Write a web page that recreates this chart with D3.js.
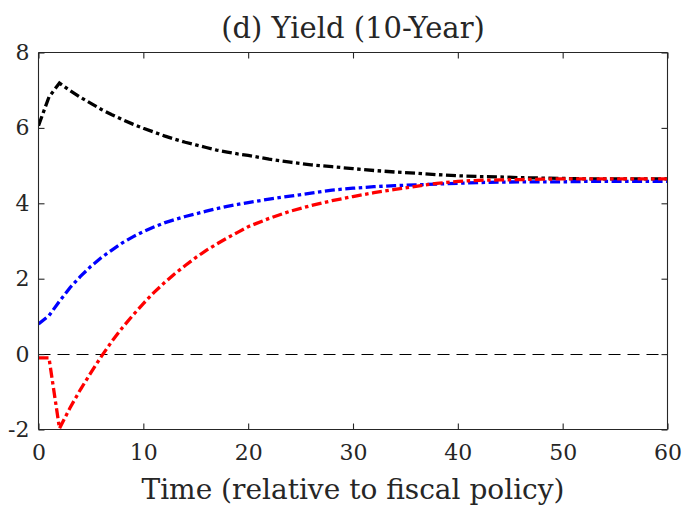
<!DOCTYPE html>
<html>
<head>
<meta charset="utf-8">
<script src="https://cdn.jsdelivr.net/npm/d3@7"></script>
<style>
  html, body { margin: 0; padding: 0; background: #fff; }
  svg text { font-family: "DejaVu Serif", serif; fill: #262626; }
</style>
</head>
<body>
<svg id="chart" width="682" height="508"></svg>
<script>
// Periods after the fiscal policy change
const time = [0,1,2,3,4,5,6,7,8,9,10,11,12,13,14,15,16,17,18,19,20,
  22,24,26,28,30,32,34,36,38,40,42,44,46,48,50,52,54,56,58,60];

// 10-year yield responses (percent)
const yieldBlack = [6.06,6.82,7.19,6.99,6.81,6.65,6.49,6.35,6.22,6.10,5.99,5.89,5.79,5.70,5.62,5.55,5.48,5.41,5.36,5.31,5.27,
  5.17,5.09,5.02,4.97,4.92,4.87,4.83,4.80,4.76,4.73,4.71,4.70,4.68,4.67,4.66,4.65,4.65,4.65,4.65,4.65];
const yieldBlue = [0.80,1.02,1.40,1.76,2.06,2.33,2.56,2.76,2.95,3.11,3.25,3.37,3.48,3.57,3.65,3.72,3.79,3.86,3.92,3.97,4.02,
  4.11,4.19,4.27,4.35,4.40,4.44,4.47,4.49,4.51,4.53,4.55,4.56,4.57,4.57,4.57,4.58,4.58,4.58,4.58,4.58];
const yieldRed = [-0.10,-0.10,-1.97,-1.43,-0.94,-0.49,-0.06,0.34,0.70,1.03,1.34,1.63,1.89,2.13,2.35,2.56,2.75,2.92,3.08,3.23,3.38,
  3.60,3.79,3.94,4.07,4.18,4.28,4.37,4.45,4.53,4.58,4.61,4.62,4.63,4.64,4.65,4.65,4.65,4.65,4.65,4.65];

const xTicks = [0,10,20,30,40,50,60];
const yTicks = [-2,0,2,4,6,8];

const titleText = "(d) Yield (10-Year)";
const xLabelText = "Time (relative to fiscal policy)";

const svg = d3.select("#chart");
const W = 682, H = 508;
const margin = { left: 38.5, right: W - 667.5, top: 52.5, bottom: H - 429.5 };

const x = d3.scaleLinear().domain([0, 60]).range([margin.left, W - margin.right]);
const y = d3.scaleLinear().domain([-2, 8]).range([H - margin.bottom, margin.top]);

const axisColor = "#262626";
const tickLen = 6;
const serif = "'DejaVu Serif', serif";

// Clip plot lines to the axes box
svg.append("defs").append("clipPath").attr("id", "plotClip")
  .append("rect")
  .attr("x", x(0)).attr("y", y(8) - 2)
  .attr("width", x(60) - x(0)).attr("height", y(-2) - y(8) + 2);

// Zero reference line
const y0 = Math.round(y(0)) + 0.5;
svg.append("line")
  .attr("x1", x(0)).attr("x2", x(60))
  .attr("y1", y0).attr("y2", y0)
  .attr("stroke", "#000").attr("stroke-width", 1.2)
  .attr("stroke-dasharray", "12,7");

// Response lines
const line = d3.line().x((d, i) => x(time[i])).y(d => y(d));
const series = [
  { values: yieldBlack, color: "#000000" },
  { values: yieldBlue, color: "#0000ff" },
  { values: yieldRed, color: "#ff0000" }
];
svg.append("g").attr("clip-path", "url(#plotClip)")
  .selectAll("path").data(series).join("path")
  .attr("d", d => line(d.values))
  .attr("fill", "none")
  .attr("stroke", d => d.color)
  .attr("stroke-width", 3.3)
  .attr("stroke-dasharray", "10,3.5,3.5,3.5");

// Axes: ticks point inward on all four sides
const fmt = d => (d < 0 ? "-" + Math.abs(d) : String(d));

const axBottom = svg.append("g").attr("transform", `translate(0,${y(-2)})`)
  .call(d3.axisBottom(x).tickValues(xTicks).tickSize(-tickLen).tickPadding(15).tickFormat(fmt));
const axTop = svg.append("g").attr("transform", `translate(0,${y(8)})`)
  .call(d3.axisTop(x).tickValues(xTicks).tickSize(-tickLen).tickFormat(""));
const axLeft = svg.append("g").attr("transform", `translate(${x(0)},0)`)
  .call(d3.axisLeft(y).tickValues(yTicks).tickSize(-tickLen).tickPadding(9).tickFormat(fmt));
const axRight = svg.append("g").attr("transform", `translate(${x(60)},0)`)
  .call(d3.axisRight(y).tickValues(yTicks).tickSize(-tickLen).tickFormat(""));

[axBottom, axTop, axLeft, axRight].forEach(g => {
  g.attr("font-family", serif);
  g.select(".domain").attr("stroke", axisColor).attr("stroke-width", 1.1);
  g.selectAll(".tick line").attr("stroke", axisColor).attr("stroke-width", 1.1);
  g.selectAll(".tick text").attr("font-size", 22).attr("fill", axisColor)
    .style("font-family", serif);
});
// Plain box edges without end stubs
axBottom.select(".domain").attr("d", `M${x(0)},0H${x(60)}`);
axTop.select(".domain").attr("d", `M${x(0)},0H${x(60)}`);
axLeft.select(".domain").attr("d", `M0,${y(-2)}V${y(8)}`);
axRight.select(".domain").attr("d", `M0,${y(-2)}V${y(8)}`);

// Title
svg.append("text")
  .attr("x", (x(0) + x(60)) / 2).attr("y", 38)
  .attr("text-anchor", "middle")
  .attr("font-size", 29)
  .attr("fill", "#000")
  .style("font-family", serif)
  .text(titleText);

// X axis label
svg.append("text")
  .attr("x", (x(0) + x(60)) / 2).attr("y", 499)
  .attr("text-anchor", "middle")
  .attr("font-size", 28)
  .attr("fill", "#262626")
  .style("font-family", serif)
  .text(xLabelText);
</script>
</body>
</html>
